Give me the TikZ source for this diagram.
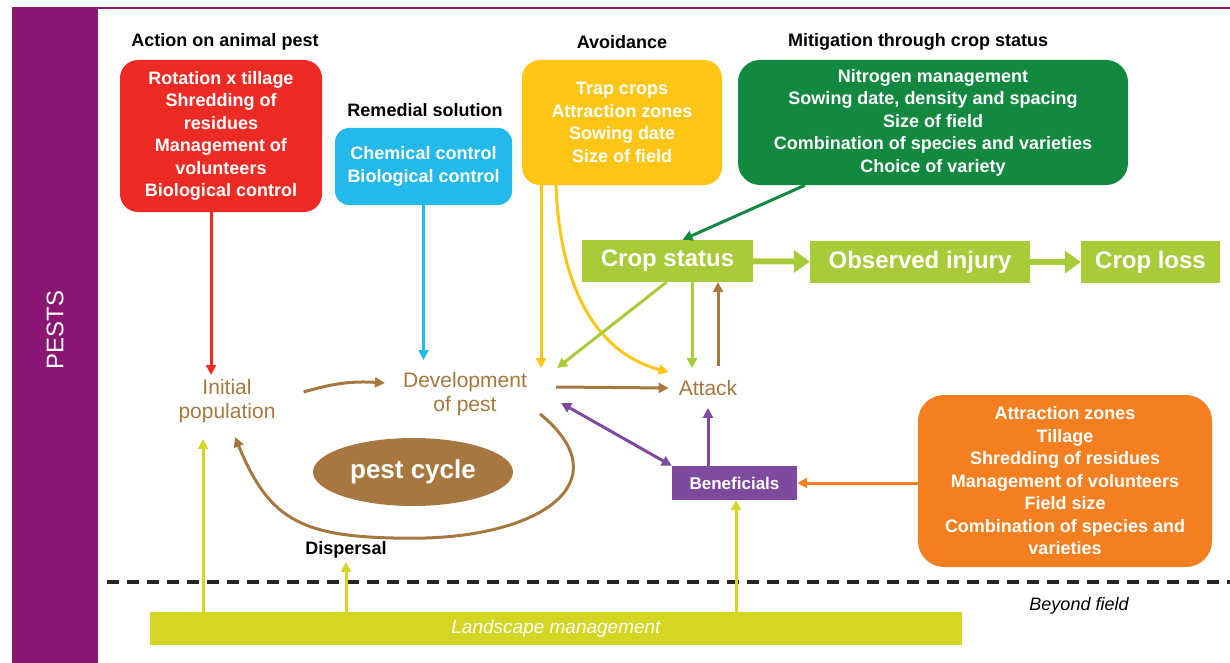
\documentclass[tikz,border=0pt]{standalone}
\usepackage{fontspec}
\setmainfont{Liberation Sans}
\usetikzlibrary{arrows.meta,shapes.geometric}
\definecolor{pestpurple}{RGB}{137,22,114}
\definecolor{actred}{RGB}{237,43,36}
\definecolor{remblue}{RGB}{35,185,234}
\definecolor{avoidyellow}{RGB}{253,198,22}
\definecolor{mitgreen}{RGB}{18,137,63}
\definecolor{cropgreen}{RGB}{168,204,57}
\definecolor{pestbrown}{RGB}{166,120,64}
\definecolor{benpurple}{RGB}{125,74,157}
\definecolor{benorange}{RGB}{244,127,32}
\definecolor{landolive}{RGB}{213,214,35}

\begin{document}
\begin{tikzpicture}[x=1pt, y=-1pt, >={Triangle[length=10pt,width=10pt]},
    hdr/.style={font=\fontsize{18}{22}\selectfont\bfseries},
    lever/.style={fill=#1, text=white, align=center, inner sep=0pt, rounded corners=18pt,
      font=\fontsize{18}{22.5}\selectfont\bfseries},
    stage/.style={fill=cropgreen, text=white, minimum height=42pt, inner sep=0pt,
      font=\fontsize{24}{28}\selectfont\bfseries},
    pestlbl/.style={text=pestbrown, align=center, inner sep=4pt, font=\fontsize{21}{24}\selectfont},
    link/.style={draw=#1, line width=3pt, ->},
    bigstep/.style={draw=cropgreen, line width=6pt, -{Triangle[length=16pt,width=22pt]}}]
  \useasboundingbox (0,0) rectangle (1230,663);
  \fill[pestpurple] (12,7) rectangle (98,663);
  \draw[pestpurple, line width=1.5pt] (98,8) -- (1230,8);
  \node[rotate=90, text=white, font=\fontsize{24}{28}\selectfont] (pests) at (55,330) {PESTS};

  \node[hdr] (hact) at (225,42) {Action on animal pest};
  \node[hdr] (hrem) at (425,110) {Remedial solution};
  \node[hdr] (havoid) at (622,42) {Avoidance};
  \node[hdr] (hmit) at (918,42) {Mitigation through crop status};

  \node[lever=actred, minimum width=202pt, minimum height=152pt] (act) at (221,136)
    {Rotation x tillage\\Shredding of\\residues\\Management of\\volunteers\\Biological control};
  \node[lever=remblue, minimum width=177pt, minimum height=77pt, rounded corners=14pt] (rem) at (423.5,166.5)
    {Chemical control\\Biological control};
  \node[lever=avoidyellow, minimum width=200pt, minimum height=125pt] (avoid) at (622,122.5)
    {Trap crops\\Attraction zones\\Sowing date\\Size of field};
  \node[lever=mitgreen, minimum width=390pt, minimum height=125pt, rounded corners=22pt] (mit) at (933,122.5)
    {Nitrogen management\\Sowing date, density and spacing\\Size of field\\Combination of species and varieties\\Choice of variety};
  \node[lever=benorange, minimum width=294pt, minimum height=172pt, rounded corners=26pt] (hab) at (1065,481)
    {Attraction zones\\Tillage\\Shredding of residues\\Management of volunteers\\Field size\\Combination of species and\\varieties};

  \node[stage, minimum width=171pt] (crop) at (667.5,261) {Crop status};
  \node[stage, minimum width=220pt] (inj) at (920,262) {Observed injury};
  \node[stage, minimum width=139pt] (loss) at (1150.5,262) {Crop loss};

  \node[pestlbl] (init) at (227,401) {Initial\\population};
  \node[pestlbl] (dev) at (465,394) {Development\\of pest};
  \node[pestlbl] (attack) at (708,388) {Attack};
  \node[ellipse, fill=pestbrown, text=white, minimum width=200pt, minimum height=68pt, inner sep=0pt,
    font=\fontsize{26}{30}\selectfont\bfseries] (cyc) at (413,472) {pest cycle};
  \node[fill=benpurple, text=white, minimum width=125pt, minimum height=34pt, inner sep=0pt,
    font=\fontsize{17}{20}\selectfont\bfseries] (ben) at (734.5,483) {Beneficials};
  \node[hdr] (disp) at (346,550) {Dispersal};
  \node[font=\fontsize{18}{22}\selectfont\itshape] (beyond) at (1079,606) {Beyond field};
  \node[fill=landolive, text=white, minimum width=812pt, minimum height=33pt, inner sep=0pt,
    font=\fontsize{19}{22}\selectfont\itshape] (land) at (556,628.5) {Landscape management};

  \draw[black!85, line width=4pt, dash pattern=on 12pt off 8pt] (107,582) -- (1230,582);

  \draw[bigstep] (crop) -- (inj);
  \draw[bigstep] (inj) -- (loss);

  \draw[link=actred] ([xshift=-10pt]act.south) -- ([xshift=-10pt]act.south |- init.north);
  \draw[link=remblue] (rem.south) -- ([yshift=8pt]rem.south |- dev.north);
  \draw[link=avoidyellow] ([xshift=-81pt]avoid.south) -- ([xshift=-81pt]avoid.south |- dev.north);
  \draw[link=avoidyellow] ([xshift=-66pt]avoid.south) to[out=-88, in=165] ([xshift=-6pt,yshift=4pt]attack.north west);
  \draw[link=mitgreen] ([xshift=-128pt]mit.south) -- ([xshift=15pt]crop.north);
  \draw[link=cropgreen] ([xshift=-1pt]crop.south) -- ([xshift=26pt]dev.north east);
  \draw[link=cropgreen] ([xshift=-16pt]attack.north |- crop.south) -- ([xshift=-16pt,yshift=8pt]attack.north);
  \draw[link=pestbrown] ([xshift=10pt,yshift=10pt]attack.north) -- ([xshift=10pt]attack.north |- crop.south);

  \draw[link=pestbrown] ([xshift=24pt,yshift=9pt]init.east) to[bend left=10] ([xshift=-14pt,yshift=11pt]dev.west);
  \draw[link=pestbrown] ([xshift=25pt,yshift=7pt]dev.east) -- ([xshift=-6pt]attack.west);
  \draw[link=pestbrown] ([xshift=9pt,yshift=6pt]dev.south east) .. controls +(83,68) and +(127,0) .. ([yshift=-32pt]cyc.south)
    .. controls +(-110,0) and +(35,85) .. ([xshift=8pt,yshift=-10pt]init.south);
  \draw[link=benpurple, <->] ([xshift=30pt,yshift=-9pt]dev.east) -- (ben.north west);
  \draw[link=benpurple] ([xshift=-26.5pt]ben.north) -- ([xshift=-26.5pt,yshift=-8pt]ben.north |- attack.south);
  \draw[link=benorange] (hab.west |- ben.east) -- (ben.east);

  \draw[link=landolive] ([xshift=-24pt]init.south |- land.north) -- ([xshift=-24pt,yshift=-12pt]init.south);
  \draw[link=landolive] (disp.south |- land.north) -- (disp.south);
  \draw[link=landolive] ([xshift=1.5pt]ben.south |- land.north) -- ([xshift=1.5pt]ben.south);
\end{tikzpicture}
\end{document}
